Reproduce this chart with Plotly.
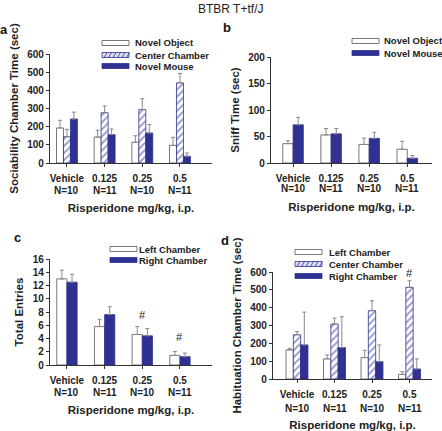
import plotly.graph_objects as go

W, H = 442, 431
BLUE = "#2e3192"
GRAY = "#8a8a8a"
FONT = "Liberation Sans, Arial, sans-serif"

x_idx = [0, 1, 2, 3]
dose_labels = ["Vehicle", "0.125", "0.25", "0.5"]
n_labels = ["N=10", "N=11", "N=10", "N=11"]

# Panel a: Sociability chamber time (sec)
a_obj = [193, 143, 114, 97]
a_obj_err = [42, 37, 36, 44]
a_ctr = [145, 277, 294, 441]
a_ctr_err = [40, 37, 60, 52]
a_mouse = [242, 156, 165, 37]
a_mouse_err = [38, 31, 47, 18]

# Panel b: Sniff time (sec)
b_obj = [36.5, 53, 35, 26]
b_obj_err = [5.5, 12, 12, 15]
b_mouse = [72, 55, 46.5, 9]
b_mouse_err = [14, 10, 11.5, 5]

# Panel c: Total entries
c_left = [13.0, 5.8, 4.6, 1.45]
c_left_err = [1.3, 1.1, 1.2, 0.6]
c_right = [12.5, 7.6, 4.4, 1.25]
c_right_err = [1.2, 1.2, 1.1, 0.55]

# Panel d: Habituation chamber time (sec)
d_left = [163, 113, 120, 26]
d_left_err = [9, 22, 41, 15]
d_ctr = [248, 308, 383, 514]
d_ctr_err = [18, 33, 56, 37]
d_right = [191, 176, 97, 56]
d_right_err = [184, 173, 94, 57]

def fx(px):
    return px / W

def fy(py):
    return 1 - py / H

fig = go.Figure()

def bar(vals, errs, xa, ya, style, offset, width):
    if style == "white":
        marker = dict(color="white", line=dict(color="#555555", width=0.8))
    elif style == "hatch":
        marker = dict(color="white", line=dict(color=BLUE, width=0.8),
                      pattern=dict(shape="/", fgcolor=BLUE, bgcolor="white",
                                   size=5, solidity=0.35))
    else:
        marker = dict(color=BLUE, line=dict(color=BLUE, width=0.8))
    fig.add_trace(go.Bar(
        x=x_idx, y=vals, xaxis=xa, yaxis=ya, marker=marker,
        offset=offset, width=width, showlegend=False,
        error_y=dict(type="data", array=errs, arrayminus=[0] * len(errs),
                     symmetric=False, color=GRAY, thickness=1, width=2),
    ))

w3 = 0.185
bar(a_obj, a_obj_err, "x", "y", "white", -1.5 * w3, w3)
bar(a_ctr, a_ctr_err, "x", "y", "hatch", -0.5 * w3, w3)
bar(a_mouse, a_mouse_err, "x", "y", "blue", 0.5 * w3, w3)

w2 = 0.27
bar(b_obj, b_obj_err, "x2", "y2", "white", -w2, w2)
bar(b_mouse, b_mouse_err, "x2", "y2", "blue", 0, w2)

bar(c_left, c_left_err, "x3", "y3", "white", -w2, w2)
bar(c_right, c_right_err, "x3", "y3", "blue", 0, w2)

wd = 0.195
bar(d_left, d_left_err, "x4", "y4", "white", -1.5 * wd, wd)
bar(d_ctr, d_ctr_err, "x4", "y4", "hatch", -0.5 * wd, wd)
bar(d_right, d_right_err, "x4", "y4", "blue", 0.5 * wd, wd)

tickfont = dict(family=FONT, size=10, color="#222", weight="bold")
titlefont = dict(family=FONT, size=11.5, color="#222", weight="bold")

def xaxis(dom, rng, standoff):
    return dict(domain=dom, range=rng, tickvals=x_idx, ticktext=dose_labels,
                showline=True, linecolor="#333", linewidth=1.2,
                ticks="outside", ticklen=3, tickcolor="#333", automargin=False,
                ticklabelstandoff=3,
                showgrid=False, zeroline=False, tickfont=tickfont,
                title=dict(text="Risperidone mg/kg, i.p.", font=titlefont, standoff=standoff))

def yaxis(dom, rng, dtick, title, anchor):
    return dict(domain=dom, range=rng, dtick=dtick, anchor=anchor,
                showline=True, linecolor="#333", linewidth=1.2,
                ticks="outside", ticklen=3, tickcolor="#333", automargin=False,
                showgrid=False, zeroline=False, tickfont=tickfont,
                title=dict(text=title, font=titlefont, standoff=6))

fig.update_layout(
    width=W, height=H, margin=dict(l=0, r=0, t=0, b=0, pad=0, autoexpand=False),
    paper_bgcolor="white", plot_bgcolor="white", barmode="overlay",
    showlegend=False, font=dict(family=FONT),
    xaxis=dict(**xaxis([fx(50), fx(212)], [-0.45, 3.85], 20), anchor="y"),
    yaxis=yaxis([fy(163), fy(54)], [0, 600], 100, "Sociability Chamber Time (sec)", "x"),
    xaxis2=dict(**xaxis([fx(271), fx(432)], [-0.58, 3.65], 19), anchor="y2"),
    yaxis2=yaxis([fy(163), fy(57)], [0, 200], 50, "Sniff Time (sec)", "x2"),
    xaxis3=dict(**xaxis([fx(50), fx(212)], [-0.45, 3.85], 20), anchor="y3"),
    yaxis3=yaxis([fy(365), fy(259)], [0, 16], 2, "Total Entries", "x3"),
    xaxis4=dict(**xaxis([fx(273), fx(432)], [-0.64, 3.6], 23), anchor="y4"),
    yaxis4=yaxis([fy(379), fy(272)], [0, 600], 100, "Habituation Chamber Time (sec)", "x4"),
)

annotations = []
shapes = []

# Title and panel letters
annotations.append(dict(text="BTBR T+tf/J", x=fx(230), y=fy(9), xref="paper", yref="paper",
                        xanchor="center", yanchor="middle",
                        showarrow=False, font=dict(family=FONT, size=12, color="#222")))
for letter, px, py in [("a", 4, 29), ("b", 227, 28), ("c", 17, 238), ("d", 225, 240)]:
    annotations.append(dict(text=letter, x=fx(px), y=fy(py), xref="paper", yref="paper",
                            xanchor="center", yanchor="middle", showarrow=False,
                            font=dict(family=FONT, size=13, color="#111", weight="bold")))

# second tick-label line (group sizes)
for xa, ya, shift in [("x", "y", -27), ("x2", "y2", -25.5), ("x3", "y3", -27), ("x4", "y4", -29)]:
    for xv, lab in zip(x_idx, n_labels):
        annotations.append(dict(text=lab, x=xv, y=0, xref=xa, yref=f"{ya} domain",
                                xanchor="center", yanchor="middle", yshift=shift,
                                showarrow=False, font=tickfont))

# '#' markers
for xa, ya, xv, yv in [("x3", "y3", 2, 7.5), ("x3", "y3", 3, 4.2), ("x4", "y4", 3, 595)]:
    annotations.append(dict(text="#", x=xv, y=yv, xref=xa, yref=ya, showarrow=False,
                            xanchor="center", yanchor="middle",
                            font=dict(family=FONT, size=11, color="#222")))

# Custom compact legends
def legend(entries, sx, tx, ys):
    for (name, style), yc in zip(entries, ys):
        x0, x1 = fx(sx), fx(sx + 27)
        y0, y1 = fy(yc + 2.5), fy(yc - 2.5)
        if style == "white":
            shapes.append(dict(type="rect", xref="paper", yref="paper", x0=x0, x1=x1, y0=y0, y1=y1,
                               fillcolor="white", line=dict(color="#555", width=0.8)))
        elif style == "blue":
            shapes.append(dict(type="rect", xref="paper", yref="paper", x0=x0, x1=x1, y0=y0, y1=y1,
                               fillcolor=BLUE, line=dict(color=BLUE, width=0.8)))
        else:
            shapes.append(dict(type="rect", xref="paper", yref="paper", x0=x0, x1=x1, y0=y0, y1=y1,
                               fillcolor="#dcdcf2", line=dict(color=BLUE, width=0.8)))
            path = ""
            for k in range(6):
                a = sx + 2 + k * 4.5
                path += f"M {fx(a)} {fy(yc + 2.5)} L {fx(a + 3)} {fy(yc - 2.5)} "
            shapes.append(dict(type="path", xref="paper", yref="paper", path=path,
                               line=dict(color=BLUE, width=0.8)))
        annotations.append(dict(text=name, x=fx(tx), y=fy(yc), xref="paper", yref="paper",
                                xanchor="left", yanchor="middle", showarrow=False,
                                font=dict(family=FONT, size=9.5, color="#222", weight="bold")))

legend([("Novel Object", "white"), ("Center Chamber", "hatch"), ("Novel Mouse", "blue")],
       102, 133, [43, 55, 66])
legend([("Novel Object", "white"), ("Novel Mouse", "blue")], 352, 382, [41, 53])
legend([("Left Chamber", "white"), ("Right Chamber", "blue")], 110, 137, [249, 260])
legend([("Left Chamber", "white"), ("Center Chamber", "hatch"), ("Right Chamber", "blue")],
       295, 327, [252, 264, 276])

fig.update_layout(annotations=annotations, shapes=shapes)
fig.write_html("out.html", config={"displayModeBar": False},
               post_script="document.body.style.margin='0';document.body.style.overflow='hidden';")
